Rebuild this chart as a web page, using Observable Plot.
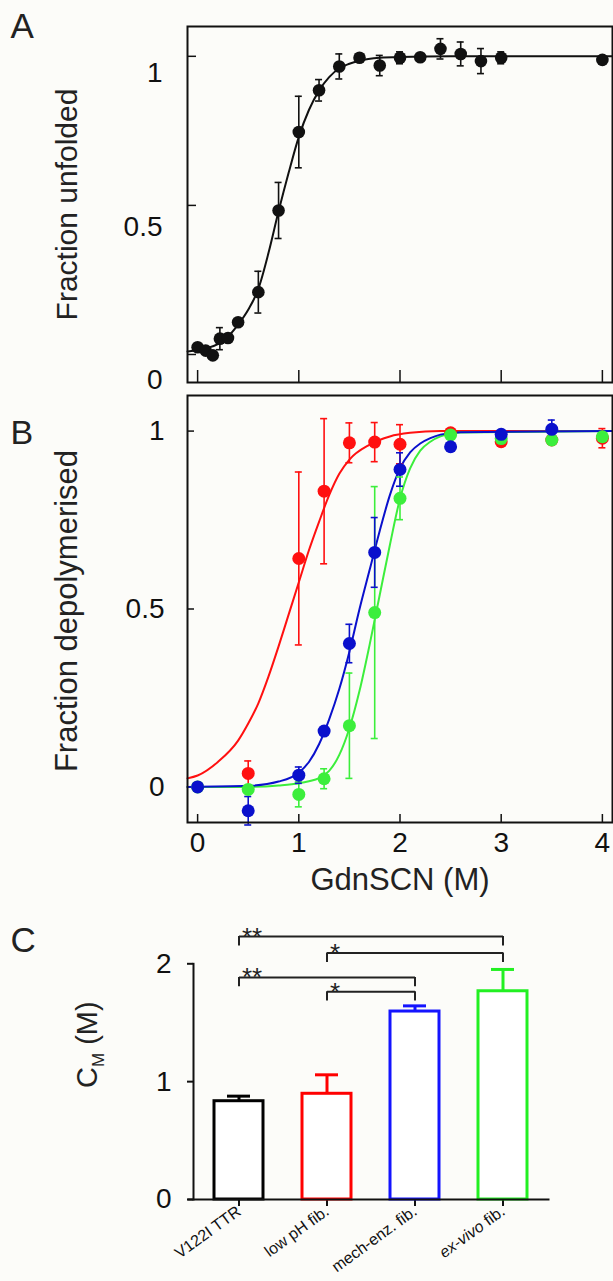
<!DOCTYPE html>
<html><head><meta charset="utf-8">
<script src="https://cdn.jsdelivr.net/npm/d3@7"></script>
<script src="https://cdn.jsdelivr.net/npm/@observablehq/plot@0.6"></script>
<style>
html,body{margin:0;padding:0;background:#fcfcf9;}
#fig{position:relative;width:613px;height:1281px;overflow:hidden;}
#fig svg{position:absolute;left:0;overflow:visible;}
</style></head><body><div id="fig"></div>
<script>
// ---------- Panel A : fraction unfolded (V122I TTR) ----------
const xA   = [0, 0.08, 0.15, 0.22, 0.3, 0.4, 0.6, 0.8, 1.0, 1.2, 1.4, 1.6, 1.8, 2.0, 2.2, 2.4, 2.6, 2.8, 3.0, 4.0];
const yA   = [0.024, 0.013, -0.003, 0.053, 0.055, 0.108, 0.209, 0.483, 0.746, 0.886, 0.966, 0.995, 0.969, 0.995, 0.997, 1.025, 1.008, 0.984, 0.995, 0.988];
const errA = [0, 0, 0, 0.037, 0.01, 0.01, 0.07, 0.094, 0.12, 0.036, 0.042, 0, 0.034, 0.02, 0.01, 0.034, 0.04, 0.042, 0.02, 0];
const fitAx = [-0.1, 0, 0.1, 0.2, 0.3, 0.4, 0.5, 0.6, 0.7, 0.8, 0.9, 1.0, 1.1, 1.2, 1.3, 1.4, 1.5, 1.6, 1.8, 2.0, 2.5, 4.1];
const fitAy = [0.01, 0.015, 0.022, 0.035, 0.06, 0.1, 0.15, 0.22, 0.34, 0.48, 0.61, 0.73, 0.82, 0.885, 0.93, 0.96, 0.975, 0.985, 0.995, 0.998, 1.0, 1.0];

// ---------- Panel B : fraction depolymerised ----------
const xRed   = [0.5, 1.0, 1.25, 1.5, 1.75, 2.0, 2.5, 3.0, 3.5, 4.0];
const yRed   = [0.038, 0.642, 0.831, 0.967, 0.969, 0.963, 0.995, 0.97, 0.975, 0.98];
const eRed   = [0.035, 0.243, 0.204, 0.056, 0.055, 0.055, 0, 0, 0, 0.027];
const xGreen = [0, 0.5, 1.0, 1.25, 1.5, 1.75, 2.0, 2.5, 3.0, 3.5, 4.0];
const yGreen = [0.0, -0.007, -0.021, 0.023, 0.172, 0.49, 0.811, 0.989, 0.979, 0.975, 0.984];
const eGreen = [0, 0, 0.035, 0.028, 0.148, 0.354, 0.06, 0, 0, 0, 0];
const xBlue  = [0, 0.5, 1.0, 1.25, 1.5, 1.75, 2.0, 2.5, 3.0, 3.5];
const yBlue  = [0.0, -0.067, 0.033, 0.157, 0.403, 0.659, 0.892, 0.956, 0.991, 1.005];
const eBlue  = [0, 0.04, 0.023, 0, 0.054, 0.098, 0.047, 0, 0.01, 0.026];

const fitRedX   = [-0.1, 0, 0.2, 0.4, 0.5, 0.6, 0.7, 0.8, 0.9, 1.0, 1.1, 1.2, 1.3, 1.4, 1.5, 1.7, 1.9, 2.1, 2.4, 4.1];
const fitRedY   = [0.024, 0.032, 0.07, 0.13, 0.178, 0.235, 0.31, 0.395, 0.485, 0.575, 0.665, 0.745, 0.82, 0.88, 0.92, 0.962, 0.985, 0.995, 1.0, 1.0];
const fitBlueX  = [-0.1, 0.5, 0.8, 1.0, 1.1, 1.2, 1.3, 1.4, 1.5, 1.6, 1.7, 1.8, 1.9, 2.0, 2.1, 2.2, 2.3, 2.4, 2.6, 4.1];
const fitBlueY  = [0.0, 0.003, 0.015, 0.04, 0.07, 0.12, 0.19, 0.275, 0.38, 0.5, 0.61, 0.72, 0.82, 0.895, 0.94, 0.965, 0.98, 0.99, 0.997, 1.0];
const fitGreenX = [-0.1, 0.5, 0.8, 1.0, 1.1, 1.2, 1.3, 1.4, 1.5, 1.6, 1.7, 1.8, 1.9, 2.0, 2.1, 2.2, 2.3, 2.4, 2.6, 4.1];
const fitGreenY = [0.0, 0.0, 0.004, 0.01, 0.016, 0.025, 0.045, 0.09, 0.165, 0.27, 0.4, 0.54, 0.68, 0.81, 0.895, 0.945, 0.97, 0.985, 0.996, 1.0];

const xTicks = [0, 1, 2, 3, 4];
const yTicksAB = [0, 0.5, 1];

// ---------- Panel C : midpoints ----------
const cats   = ["V122I TTR", "low pH fib.", "mech-enz. fib.", "ex-vivo fib."];
const cmVals = [0.834, 0.897, 1.595, 1.767];
const cmErr  = [0.043, 0.161, 0.048, 0.185];
const brFrom  = ["V122I TTR", "low pH fib.", "V122I TTR", "low pH fib."];
const brTo    = ["ex-vivo fib.", "ex-vivo fib.", "mech-enz. fib.", "mech-enz. fib."];
const brLevel = [2.231, 2.091, 1.884, 1.763];
const brLabel = ["**", "*", "**", "*"];
const yTicksC = [0, 1, 2];

// ---------- styling ----------
const FONT = "'Liberation Sans', Arial, Helvetica, sans-serif";
const INK = "#111";
const RED = "#ff1010", GREEN = "#3cee3c", BLUE = "#0a10cc";
const barColors = ["#000000", "#ff0000", "#1414ff", "#22f022"];
const fmt = d3.format("~g");
const baseStyle = {fontFamily: FONT, fontSize: "27px", color: INK, background: "transparent", overflow: "visible"};

// tables
const ptsA = xA.map((x, i) => ({x, y: yA[i], e: errA[i]}));
const fitA = fitAx.map((x, i) => ({x, y: fitAy[i]}));
const mk = (xs, ys, es, color) => xs.map((x, i) => ({x, y: ys[i], e: es[i], color}));
const ptsB = [...mk(xRed, yRed, eRed, RED), ...mk(xGreen, yGreen, eGreen, GREEN), ...mk(xBlue, yBlue, eBlue, BLUE)];
const fitB = [
  ...fitRedX.map((x, i) => ({x, y: fitRedY[i], color: RED})),
  ...fitGreenX.map((x, i) => ({x, y: fitGreenY[i], color: GREEN})),
  ...fitBlueX.map((x, i) => ({x, y: fitBlueY[i], color: BLUE}))
];
const barsC = cats.map((c, i) => ({cat: c, v: cmVals[i], e: cmErr[i], color: barColors[i]}));
const brackets = brFrom.map((f, i) => ({from: f, to: brTo[i], level: brLevel[i], label: brLabel[i]}));
const legs = brackets.flatMap(b => [{cat: b.from, level: b.level}, {cat: b.to, level: b.level}]);

function errMarks(data, color) {
  const d = data.filter(p => p.e > 0);
  const c = color || (p => p.color);
  return [
    Plot.ruleX(d, {x: "x", y1: p => p.y - p.e, y2: p => p.y + p.e, stroke: c, strokeWidth: 1.6}),
    Plot.ruleY(d, {x1: "x", x2: "x", y: p => p.y + p.e, insetLeft: -3.5, insetRight: -3.5, stroke: c, strokeWidth: 1.6}),
    Plot.ruleY(d, {x1: "x", x2: "x", y: p => p.y - p.e, insetLeft: -3.5, insetRight: -3.5, stroke: c, strokeWidth: 1.6})
  ];
}

// ---------- Panel A ----------
const svgA = Plot.plot({
  width: 613, height: 400,
  marginTop: 26, marginBottom: 18, marginLeft: 187, marginRight: 1,
  x: {domain: [-0.1, 4.1]},
  y: {domain: [-0.094, 1.1]},
  style: baseStyle,
  marks: [
    Plot.axisX({ticks: xTicks, tickSize: -12, tickFormat: () => "", label: null, strokeWidth: 1.5}),
    Plot.axisY({ticks: yTicksAB, tickSize: -9, tickFormat: () => "", label: null, strokeWidth: 1.5}),
    ...[[1, 17], [0.5, 22], [0, 26]].map(([v, dy]) => Plot.axisY({ticks: [v], tickSize: 0, tickPadding: 25, dy, fontSize: 28, tickFormat: fmt, label: null})),
    Plot.line(fitA, {x: "x", y: "y", curve: "monotone-x", stroke: INK, strokeWidth: 2}),
    ...errMarks(ptsA, INK),
    Plot.dot(ptsA, {x: "x", y: "y", r: 6.3, fill: INK}),
    Plot.frame({stroke: INK, strokeWidth: 2}),
    Plot.text(["Fraction unfolded"], {frameAnchor: "left", textAnchor: "middle", lineAnchor: "middle", rotate: -90, dx: -120, fontSize: 30, fill: "#222"}),
    Plot.text(["A"], {frameAnchor: "top-left", textAnchor: "start", lineAnchor: "middle", dx: -177, dy: 0, fontSize: 35, fill: "#222"})
  ]
});

// ---------- Panel B ----------
const svgB = Plot.plot({
  width: 613, height: 510,
  marginTop: 10, marginBottom: 73, marginLeft: 187, marginRight: 1,
  x: {domain: [-0.1, 4.1]},
  y: {domain: [-0.1, 1.1]},
  color: {type: "identity"},
  style: baseStyle,
  marks: [
    Plot.axisX({ticks: xTicks, tickSize: -8, tickFormat: () => "", label: null, strokeWidth: 1.5}),
    Plot.axisX({ticks: xTicks, tickSize: 0, tickPadding: 10, fontSize: 28, tickFormat: fmt, label: null}),
    Plot.axisY({ticks: yTicksAB, tickSize: -7, tickFormat: () => "", label: null, strokeWidth: 1.5}),
    Plot.axisY({ticks: yTicksAB, tickSize: 0, tickPadding: 23, fontSize: 28, tickFormat: fmt, label: null}),
    Plot.line(fitB, {x: "x", y: "y", z: "color", stroke: "color", curve: "monotone-x", strokeWidth: 2}),
    ...errMarks(ptsB),
    Plot.dot(ptsB, {x: "x", y: "y", r: 6.5, fill: "color"}),
    Plot.frame({stroke: INK, strokeWidth: 2}),
    Plot.text(["Fraction depolymerised"], {frameAnchor: "left", textAnchor: "middle", lineAnchor: "middle", rotate: -90, dx: -120, dy: 2, fontSize: 31, fill: "#222"}),
    Plot.text(["GdnSCN (M)"], {frameAnchor: "bottom", textAnchor: "middle", lineAnchor: "middle", dy: 58, fontSize: 31, fill: "#222"}),
    Plot.text(["B"], {frameAnchor: "top-left", textAnchor: "start", lineAnchor: "middle", dx: -177, dy: 38, fontSize: 34, fill: "#222"})
  ]
});

// ---------- Panel C ----------
const svgC = Plot.plot({
  width: 613, height: 381,
  marginTop: 63.3, marginBottom: 82, marginLeft: 193, marginRight: 65,
  x: {type: "band", domain: cats, paddingInner: 0.44, paddingOuter: 0.22},
  y: {domain: [0, 2]},
  color: {type: "identity"},
  style: baseStyle,
  marks: [
    Plot.axisY({ticks: yTicksC, tickSize: 6, tickPadding: 16, fontSize: 28, tickFormat: fmt, label: null, strokeWidth: 2}),
    Plot.axisX({tickSize: 7, tickPadding: 3, tickRotate: -36, fontSize: 16, label: null, strokeWidth: 2}),
    Plot.ruleX(barsC, {x: "cat", y1: "v", y2: d => d.v + d.e, stroke: "color", strokeWidth: 3}),
    Plot.tickY(barsC, {x: "cat", y: d => d.v + d.e, stroke: "color", strokeWidth: 3, insetLeft: 13, insetRight: 13}),
    Plot.barY(barsC, {x: "cat", y: "v", fill: "white", stroke: "color", strokeWidth: 3}),
    Plot.frame({anchor: "left", stroke: INK, strokeWidth: 2}),
    Plot.frame({anchor: "bottom", stroke: INK, strokeWidth: 2, insetLeft: -5}),
    Plot.link(brackets, {x1: "from", x2: "to", y1: "level", y2: "level", stroke: "#222", strokeWidth: 2}),
    Plot.ruleX(legs, {x: "cat", y1: d => d.level - 0.079, y2: "level", stroke: "#222", strokeWidth: 2}),
    Plot.text(brackets, {x: "from", y: "level", text: "label", textAnchor: "start", lineAnchor: "bottom", dx: 3, dy: 9, fontSize: 26, fill: "#222"}),
    Plot.text(["CM (M)"], {frameAnchor: "left", textAnchor: "middle", lineAnchor: "middle", rotate: -90, dx: -106, dy: -37, fontSize: 29, fill: "#222"}),
    Plot.text(["C"], {frameAnchor: "top-left", textAnchor: "start", lineAnchor: "middle", dx: -183, dy: -23, fontSize: 35, fill: "#222"})
  ]
});

const fig = document.getElementById("fig");
[[svgA, 0], [svgB, 385], [svgC, 900]].forEach(([s, top]) => { s.style.top = top + "px"; fig.appendChild(s); });

// rich text: subscript in C_M and italic "ex-vivo"
d3.select(svgC).selectAll("text").each(function () {
  const t = d3.select(this);
  if (this.textContent === "CM (M)") {
    t.text(null);
    t.append("tspan").text("C");
    t.append("tspan").attr("font-size", 17).attr("dy", 7).text("M");
    t.append("tspan").attr("dy", -7).text(" (M)");
  } else if (this.textContent === "ex-vivo fib.") {
    t.text(null);
    t.append("tspan").attr("font-style", "italic").text("ex-vivo");
    t.append("tspan").text(" fib.");
  }
});
</script></body></html>
